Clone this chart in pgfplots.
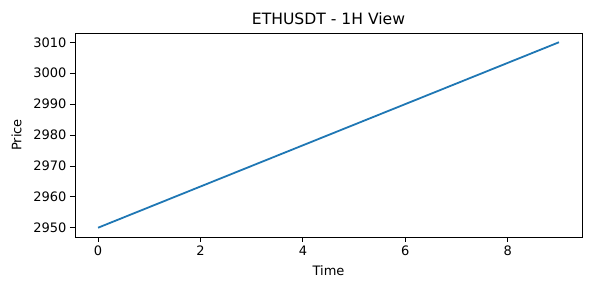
\documentclass[border=0pt]{standalone}
\usepackage{pgfplots}
\pgfplotsset{compat=1.18}
\usepackage{fontspec}
\setmainfont{DejaVu Sans}
\definecolor{tabblue}{HTML}{1F77B4}
\begin{document}
\begin{tikzpicture}
\begin{axis}[
  scale only axis,
  width=507pt, height=204pt,
  xmin=-0.45, xmax=9.45,
  ymin=2947, ymax=3013,
  xtick={0,2,4,6,8},
  ytick={2950,2960,2970,2980,2990,3000,3010},
  tick align=outside,
  xtick pos=left, ytick pos=left,
  major tick length=5pt,
  tick style={black, line width=0.8pt},
  axis line style={line width=0.8pt},
  /pgf/number format/assume math mode=true,
  /pgf/number format/1000 sep={},
  tick label style={font=\fontsize{13}{15}\selectfont},
  label style={font=\fontsize{13}{15}\selectfont},
  title style={font=\fontsize{15.6}{18}\selectfont, yshift=-1pt},
  title={ETHUSDT - 1H View},
  xlabel={Time},
  ylabel={Price},
  xlabel style={yshift=-3pt},
  ylabel style={yshift=5pt},
]
\addplot[tabblue, line width=1.8pt] coordinates {
(0,2950) (1,2956.667) (2,2963.333) (3,2970) (4,2976.667)
(5,2983.333) (6,2990) (7,2996.667) (8,3003.333) (9,3010)
};
\end{axis}
\pgfresetboundingbox
\path (current axis.south west) ++(-75pt,-53pt) coordinate (a);
\path (current axis.north east) ++(8pt,33pt) coordinate (b);
\path[use as bounding box] (a) rectangle (b);
\end{tikzpicture}
\end{document}
